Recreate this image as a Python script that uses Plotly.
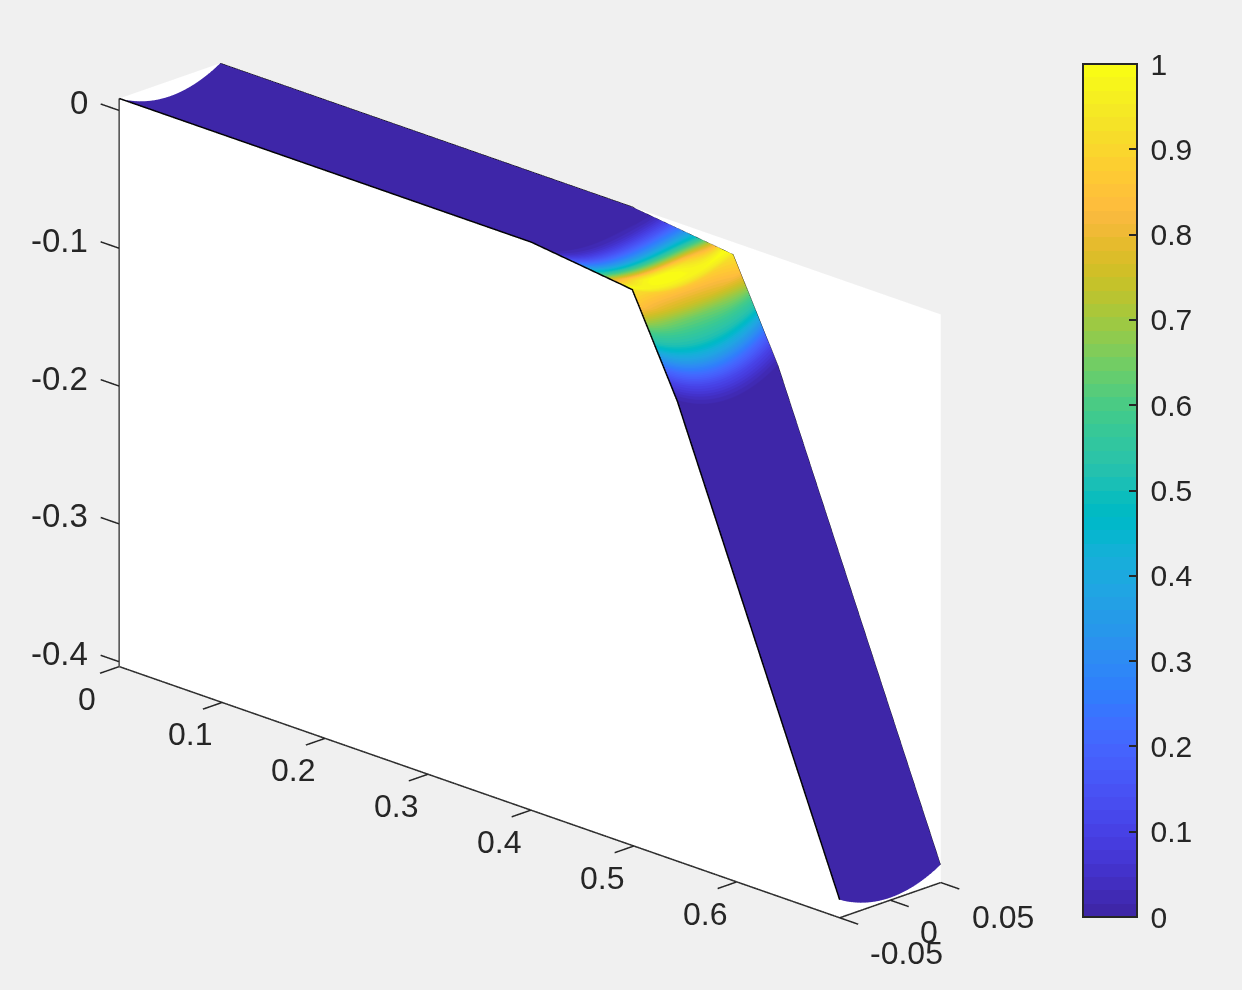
import plotly.graph_objects as go

x_stations = [0.0, 0.1, 0.2, 0.3, 0.4, 0.405, 0.41, 0.415, 0.42, 0.425, 0.43, 0.435, 0.44, 0.445, 0.45, 0.455, 0.46,
              0.465, 0.47, 0.475, 0.48, 0.485, 0.49, 0.495, 0.4985, 0.5, 0.505, 0.51, 0.515, 0.52, 0.525,
              0.53, 0.535, 0.54, 0.5424, 0.545, 0.55, 0.6, 0.65, 0.7]
z_edge = [0.0087, 0.0087, 0.0087, 0.0087, 0.0087, 0.0083, 0.0078, 0.0074, 0.0069, 0.0065, 0.006, 0.0056, 0.0051, 0.0047,
          0.0042, 0.0038, 0.0033, 0.0029, 0.0024, 0.002, 0.0015, 0.0011, 0.0006, 0.0001, -0.0002, -0.0026,
          -0.0105, -0.0185, -0.0264, -0.0344, -0.0423, -0.0503, -0.0582, -0.0662, -0.07, -0.0753, -0.0855,
          -0.1872, -0.2889, -0.3905]
c_rim = [0, 0, 0, 0, 0, 0, 0, 0.005, 0.02, 0.05, 0.09, 0.13, 0.19, 0.24, 0.31, 0.38, 0.45, 0.53, 0.62, 0.72,
         0.82, 0.92, 1.0, 0.97, 0.93, 0.91, 0.85, 0.73, 0.6, 0.5, 0.35, 0.2, 0.1, 0.03, 0.01, 0, 0, 0, 0, 0]
c_mid = [0, 0, 0, 0, 0, 0.005, 0.015, 0.03, 0.06, 0.10, 0.15, 0.21, 0.28, 0.36, 0.46, 0.56, 0.67, 0.79, 0.92, 0.99,
         1.0, 0.99, 0.97, 0.92, 0.86, 0.83, 0.75, 0.64, 0.57, 0.50, 0.38, 0.24, 0.12, 0.04, 0.015, 0, 0, 0, 0, 0]
y_section = [-0.0497, -0.045, -0.04, -0.035, -0.03, -0.025, -0.02, -0.015, -0.01, -0.005, 0.0,
             0.005, 0.01, 0.015, 0.02, 0.025, 0.03, 0.035, 0.04, 0.045, 0.0497]
sag_section = [0, 0.00213, 0.00403, 0.00571, 0.00717, 0.0084, 0.00941, 0.01019, 0.01075, 0.01109, 0.0112,
               0.01109, 0.01075, 0.01019, 0.00941, 0.0084, 0.00717, 0.00571, 0.00403, 0.00213, 0]
x_ticks = [0, 0.1, 0.2, 0.3, 0.4, 0.5, 0.6]
y_ticks = [-0.05, 0, 0.05]
z_ticks = [0, -0.1, -0.2, -0.3, -0.4]
c_ticks = [0, 0.1, 0.2, 0.3, 0.4, 0.5, 0.6, 0.7, 0.8, 0.9, 1]
x_box = [0, 0.7]
y_box = [-0.05, 0.05]
z_box = [-0.4035, 0.0087]
x_range = [-0.02, 0.72]
y_range = [-0.07, 0.07]
z_range = [-0.4235, 0.0287]
TICK_X = 0.018
TICK_Y = 0.019

parula = [
    (0.2422, 0.1504, 0.6603), (0.2504, 0.1650, 0.7076), (0.2578, 0.1818, 0.7511), (0.2647, 0.1978, 0.7952),
    (0.2706, 0.2147, 0.8364), (0.2751, 0.2342, 0.8710), (0.2783, 0.2559, 0.8991), (0.2803, 0.2782, 0.9221),
    (0.2813, 0.3006, 0.9414), (0.2810, 0.3228, 0.9579), (0.2795, 0.3447, 0.9717), (0.2760, 0.3667, 0.9829),
    (0.2699, 0.3892, 0.9906), (0.2602, 0.4123, 0.9952), (0.2440, 0.4358, 0.9988), (0.2206, 0.4603, 0.9973),
    (0.1963, 0.4847, 0.9892), (0.1834, 0.5074, 0.9798), (0.1786, 0.5289, 0.9682), (0.1764, 0.5499, 0.9520),
    (0.1687, 0.5703, 0.9359), (0.1540, 0.5902, 0.9218), (0.1460, 0.6091, 0.9079), (0.1380, 0.6276, 0.8973),
    (0.1248, 0.6459, 0.8883), (0.1113, 0.6635, 0.8763), (0.0952, 0.6798, 0.8598), (0.0689, 0.6948, 0.8394),
    (0.0297, 0.7082, 0.8163), (0.0036, 0.7203, 0.7917), (0.0067, 0.7312, 0.7660), (0.0433, 0.7411, 0.7394),
    (0.0964, 0.7500, 0.7120), (0.1408, 0.7584, 0.6842), (0.1717, 0.7670, 0.6554), (0.1938, 0.7758, 0.6251),
    (0.2161, 0.7843, 0.5923), (0.2470, 0.7918, 0.5567), (0.2906, 0.7973, 0.5188), (0.3406, 0.8008, 0.4789),
    (0.3909, 0.8029, 0.4354), (0.4456, 0.8024, 0.3909), (0.5044, 0.7993, 0.3480), (0.5616, 0.7942, 0.3045),
    (0.6174, 0.7876, 0.2612), (0.6720, 0.7793, 0.2227), (0.7242, 0.7698, 0.1910), (0.7738, 0.7598, 0.1646),
    (0.8203, 0.7498, 0.1535), (0.8634, 0.7406, 0.1596), (0.9035, 0.7330, 0.1774), (0.9393, 0.7288, 0.2100),
    (0.9728, 0.7298, 0.2394), (0.9956, 0.7434, 0.2371), (0.9970, 0.7659, 0.2199), (0.9952, 0.7893, 0.2028),
    (0.9892, 0.8136, 0.1885), (0.9786, 0.8386, 0.1766), (0.9676, 0.8639, 0.1643), (0.9610, 0.8890, 0.1537),
    (0.9597, 0.9135, 0.1423), (0.9628, 0.9373, 0.1265), (0.9691, 0.9606, 0.1064), (0.9769, 0.9839, 0.0805),
]

INK = "#262626"
FONT = "Liberation Sans, Arial, sans-serif"
n = len(parula)
scale = []
for i, (r, g, b) in enumerate(parula):
    col = f"rgb({round(r*255)},{round(g*255)},{round(b*255)})"
    scale.append([i / n, col])
    scale.append([(i + 1) / n, col])

sag_max = max(sag_section)
z_grid = [[z_edge[i] - s for i in range(len(x_stations))] for s in sag_section]
c_grid = [[c_rim[i] + (c_mid[i] - c_rim[i]) * s / sag_max for i in range(len(x_stations))] for s in sag_section]

fig = go.Figure()
FLAT = dict(ambient=1, diffuse=0, specular=0, roughness=1, fresnel=0)
BAR = dict(x=1083 / 1242, xanchor="left", y=1 - 64 / 990, yanchor="top",
           thicknessmode="pixels", thickness=54, lenmode="pixels", len=853,
           xpad=0, ypad=0, outlinecolor=INK, outlinewidth=2, tickmode="array", tickvals=c_ticks)


def wall(xs, ys, zs, **kw):
    fig.add_trace(go.Surface(x=xs, y=ys, z=zs, surfacecolor=[[0] * len(row) for row in zs],
                             colorscale=[[0, "white"], [1, "white"]], hoverinfo="skip",
                             cmin=0, cmax=1, lighting=FLAT, **kw))


# the three rear walls of the axes box; the first one carries the colorbar's labels
wall([[x_box[0], x_box[0]], [x_box[0], x_box[0]]], [[y_box[0], y_box[1]], [y_box[0], y_box[1]]],
     [[z_box[0], z_box[0]], [z_box[1], z_box[1]]],
     colorbar=dict(ticks="outside", ticklen=7, tickwidth=1, tickcolor="rgba(0,0,0,0)",
                   tickfont=dict(family=FONT, size=30, color=INK), **BAR))
wall([[x_box[0], x_box[1]], [x_box[0], x_box[1]]], [[y_box[1], y_box[1]], [y_box[1], y_box[1]]],
     [[z_box[0], z_box[0]], [z_box[1], z_box[1]]], showscale=False)
wall([[x_box[0], x_box[1]], [x_box[0], x_box[1]]], [[y_box[0], y_box[0]], [y_box[1], y_box[1]]],
     [[z_box[0], z_box[0]], [z_box[0], z_box[0]]], showscale=False)

fig.add_trace(go.Surface(
    x=x_stations, y=y_section, z=z_grid, surfacecolor=c_grid,
    colorscale=scale, cmin=0, cmax=1, hoverinfo="skip", lighting=FLAT,
    colorbar=dict(ticks="inside", ticklen=9, tickwidth=2, tickcolor=INK, showticklabels=False, **BAR),
))


def lines(xs, ys, zs, width, color=INK):
    fig.add_trace(go.Scatter3d(x=xs, y=ys, z=zs, mode="lines", line=dict(color=color, width=width),
                               hoverinfo="skip", showlegend=False))


lines(x_stations, [y_box[0]] * len(x_stations), z_edge, 3, "black")
lines(x_stations, [y_box[1]] * len(x_stations), z_edge, 1.5, "black")

# axis lines
lines([x_box[0], x_box[1]], [y_box[0]] * 2, [z_box[0]] * 2, 3)
lines([x_box[1]] * 2, [y_box[0], y_box[1]], [z_box[0]] * 2, 3)
lines([x_box[0]] * 2, [y_box[0]] * 2, [z_box[0], z_box[1]], 3)
# tick marks
for v in x_ticks:
    lines([v, v], [y_box[0], y_box[0] - TICK_Y], [z_box[0]] * 2, 3)
for v in y_ticks:
    lines([x_box[1], x_box[1] + TICK_X], [v, v], [z_box[0]] * 2, 3)
for v in z_ticks:
    lines([x_box[0], x_box[0] - TICK_X], [y_box[0]] * 2, [v, v], 3)

axis_common = dict(
    showgrid=False, zeroline=False, showspikes=False, showticklabels=False,
    showbackground=False, title=dict(text=""), showline=False, ticks="",
)

notes = []
for v in z_ticks:
    notes.append(dict(x=x_box[0], y=y_box[0], z=v, text=str(v), showarrow=False, xanchor="right",
                      xshift=-29, yshift=8, font=dict(family=FONT, size=33, color=INK)))
for v in x_ticks:
    notes.append(dict(x=v, y=y_box[0], z=z_box[0], text=str(v), showarrow=False,
                      xshift=-32, yshift=-32, font=dict(family=FONT, size=32, color=INK)))
for v, dx, dy in zip(y_ticks, [67, 39, 62], [-35, -32, -34]):
    notes.append(dict(x=x_box[1], y=v, z=z_box[0], text=str(v), showarrow=False,
                      xshift=dx, yshift=dy, font=dict(family=FONT, size=32, color=INK)))

fig.update_layout(
    width=1242, height=990, autosize=False,
    paper_bgcolor="#f0f0f0", plot_bgcolor="#f0f0f0",
    margin=dict(l=0, r=0, t=0, b=0),
    scene=dict(
        domain=dict(x=[0, 1060 / 1242], y=[0.0091, 1.0]),
        bgcolor="#f0f0f0",
        xaxis=dict(range=x_range, **axis_common),
        yaxis=dict(range=y_range, **axis_common),
        zaxis=dict(range=z_range, **axis_common),
        aspectmode="manual", aspectratio=dict(x=2.196, y=0.408, z=1.3557),
        camera=dict(projection=dict(type="orthographic"),
                    eye=dict(x=2.3, y=-2.3, z=1.21),
                    center=dict(x=0, y=0, z=0), up=dict(x=0, y=0, z=1)),
        annotations=notes,
    ),
)
fig.write_html("out.html", config=dict(displayModeBar=False),
               post_script="document.body.style.margin='0';document.body.style.background='#f0f0f0';")
